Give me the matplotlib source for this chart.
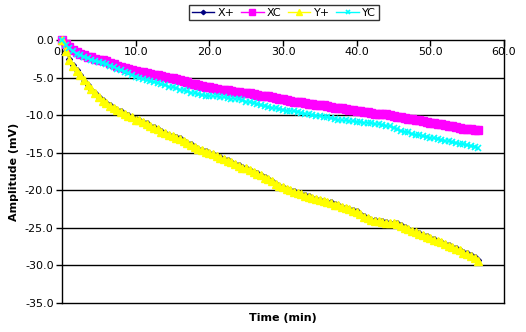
import matplotlib
matplotlib.use("Agg")
import matplotlib.pyplot as plt

# sampling grid (min)
time = [i * 0.5 for i in range(114)]

x_plus = [0.0, -1.4, -2.5, -3.3, -4.0, -4.6, -5.4, -6.0, -6.6, -7.1,
          -7.6, -8.0, -8.4, -8.7, -9.0, -9.3, -9.5, -9.8, -10.0, -10.3,
          -10.5, -10.7, -10.9, -11.1, -11.4, -11.6, -11.9, -12.1, -12.4, -12.6,
          -12.8, -12.9, -13.1, -13.4, -13.7, -13.9, -14.2, -14.5, -14.7, -14.8,
          -15.0, -15.2, -15.4, -15.6, -15.8, -16.0, -16.3, -16.5, -16.7, -16.9,
          -17.1, -17.3, -17.5, -17.7, -17.9, -18.2, -18.5, -18.8, -19.1, -19.4,
          -19.6, -19.8, -19.9, -20.1, -20.3, -20.5, -20.6, -20.8, -21.0, -21.1,
          -21.3, -21.4, -21.5, -21.6, -21.8, -22.0, -22.2, -22.3, -22.5, -22.6,
          -22.8, -23.1, -23.4, -23.7, -23.9, -24.0, -24.1, -24.1, -24.2, -24.3,
          -24.3, -24.4, -24.6, -24.9, -25.2, -25.4, -25.5, -25.7, -25.9, -26.1,
          -26.3, -26.5, -26.7, -26.9, -27.1, -27.3, -27.5, -27.7, -28.0, -28.2,
          -28.4, -28.6, -28.9, -29.3]

xc = [0.0, -0.5, -0.9, -1.3, -1.6, -1.8, -2.0, -2.2, -2.3, -2.5,
      -2.6, -2.7, -2.8, -3.0, -3.2, -3.4, -3.6, -3.7, -3.9, -4.0,
      -4.1, -4.2, -4.3, -4.4, -4.5, -4.6, -4.7, -4.8, -4.9, -5.0,
      -5.1, -5.2, -5.3, -5.5, -5.6, -5.8, -5.9, -6.0, -6.1, -6.2,
      -6.3, -6.4, -6.5, -6.6, -6.6, -6.7, -6.8, -6.9, -6.9, -7.0,
      -7.1, -7.1, -7.2, -7.3, -7.4, -7.5, -7.5, -7.6, -7.7, -7.8,
      -7.9, -8.0, -8.1, -8.2, -8.3, -8.3, -8.4, -8.5, -8.5, -8.6,
      -8.7, -8.7, -8.8, -8.9, -9.0, -9.0, -9.1, -9.2, -9.3, -9.3,
      -9.4, -9.5, -9.6, -9.6, -9.7, -9.8, -9.8, -9.9, -9.9, -10.0,
      -10.1, -10.2, -10.3, -10.4, -10.5, -10.5, -10.6, -10.7, -10.8, -10.9,
      -11.0, -11.1, -11.2, -11.2, -11.3, -11.4, -11.5, -11.6, -11.7, -11.8,
      -11.9, -11.9, -12.0, -12.0]

y_plus = [0.0, -1.5, -2.6, -3.4, -4.1, -4.7, -5.3, -6.0, -6.5, -7.1,
          -7.6, -8.1, -8.4, -8.8, -9.0, -9.3, -9.6, -9.8, -10.1, -10.3,
          -10.6, -10.7, -10.9, -11.2, -11.4, -11.7, -11.9, -12.2, -12.4, -12.6,
          -12.8, -13.0, -13.2, -13.4, -13.7, -14.0, -14.2, -14.5, -14.7, -14.9,
          -15.1, -15.2, -15.4, -15.7, -15.9, -16.1, -16.3, -16.5, -16.8, -17.0,
          -17.1, -17.3, -17.6, -17.8, -18.0, -18.3, -18.5, -18.8, -19.2, -19.4,
          -19.6, -19.8, -20.0, -20.2, -20.3, -20.5, -20.7, -20.9, -21.0, -21.2,
          -21.3, -21.4, -21.6, -21.7, -21.9, -22.0, -22.2, -22.4, -22.5, -22.7,
          -22.9, -23.2, -23.5, -23.7, -23.9, -24.1, -24.1, -24.2, -24.3, -24.3,
          -24.4, -24.5, -24.7, -25.0, -25.2, -25.4, -25.6, -25.8, -26.0, -26.2,
          -26.4, -26.6, -26.8, -26.9, -27.1, -27.4, -27.6, -27.8, -28.0, -28.3,
          -28.5, -28.7, -29.0, -29.4]

yc = [0.0, -0.6, -1.1, -1.5, -1.8, -2.0, -2.2, -2.4, -2.6, -2.8,
      -2.9, -3.1, -3.2, -3.4, -3.6, -3.8, -4.0, -4.2, -4.4, -4.7,
      -4.9, -5.0, -5.2, -5.3, -5.5, -5.6, -5.7, -5.9, -6.0, -6.2,
      -6.3, -6.4, -6.6, -6.7, -6.8, -7.0, -7.1, -7.2, -7.3, -7.4,
      -7.4, -7.5, -7.5, -7.6, -7.6, -7.7, -7.8, -7.8, -7.9, -8.0,
      -8.2, -8.3, -8.4, -8.5, -8.7, -8.8, -8.9, -9.0, -9.1, -9.2,
      -9.3, -9.4, -9.4, -9.5, -9.6, -9.7, -9.8, -9.9, -10.0, -10.1,
      -10.1, -10.2, -10.3, -10.4, -10.5, -10.6, -10.7, -10.7, -10.8, -10.8,
      -10.9, -10.9, -11.0, -11.0, -11.1, -11.2, -11.2, -11.3, -11.4, -11.5,
      -11.7, -11.9, -12.1, -12.2, -12.3, -12.5, -12.6, -12.7, -12.8, -12.9,
      -13.0, -13.1, -13.2, -13.3, -13.4, -13.5, -13.6, -13.7, -13.8, -13.9,
      -14.0, -14.1, -14.2, -14.4]

series_names = ["X+", "XC", "Y+", "YC"]
x_ticks = [0, 10, 20, 30, 40, 50, 60]
y_ticks = [0, -5, -10, -15, -20, -25, -30, -35]

plt.rcParams['font.family'] = ['DejaVu Sans']

fig = plt.figure(figsize=(5.26, 3.32), dpi=100)
ax = fig.add_axes([62 / 526, 1 - 303 / 332, (504 - 62) / 526, (303 - 40) / 332])

for yv in y_ticks[1:-1]:
    ax.axhline(yv, color='black', lw=1.0, zorder=1)

ax.plot(time, x_plus, color='#000080', lw=1.0, marker='D', ms=3.0,
        mec='#000080', mfc='#000080', label=series_names[0], clip_on=False, zorder=3)
ax.plot(time, xc, color='#FF00FF', lw=1.0, marker='s', ms=5.2,
        mec='#FF00FF', mfc='#FF00FF', label=series_names[1], clip_on=False, zorder=3)
ax.plot(time, y_plus, color='#FFFF00', lw=1.0, marker='^', ms=6.2,
        mec='#FFFF00', mfc='#FFFF00', label=series_names[2], clip_on=False, zorder=3)
ax.plot(time, yc, color='#00FFFF', lw=1.0, marker='x', ms=4.8, mew=1.2,
        mec='#00FFFF', label=series_names[3], clip_on=False, zorder=3)

ax.set_xlim(0, 60)
ax.set_ylim(-35, 0)
ax.set_xticks(x_ticks)
ax.set_xticklabels([f"{v:.1f}" for v in x_ticks])
ax.set_yticks(y_ticks)
ax.set_yticklabels([f"{v:.1f}" for v in y_ticks])

ax.tick_params(axis='x', top=True, bottom=False, labeltop=True, labelbottom=False,
               direction='in', length=4, width=1, pad=-12.5, labelsize=8, colors='black')
ax.tick_params(axis='y', left=True, direction='out', length=4, width=1, pad=2,
               labelsize=8, colors='black')

for s in ax.spines.values():
    s.set_color('black')
    s.set_linewidth(1.0)

ax.set_xlabel("Time (min)", fontsize=8, fontweight='bold', labelpad=7)
ax.set_ylabel("Amplitude (mV)", fontsize=8, fontweight='bold', labelpad=4)

leg = ax.legend(loc='center', bbox_to_anchor=(284 / 526, 1 - 12.5 / 332),
                bbox_transform=fig.transFigure, markerscale=0.75,
                ncol=4, fontsize=8, frameon=True, fancybox=False, edgecolor='black',
                handlelength=2.0, handletextpad=0.3, columnspacing=0.6, borderpad=0.25,
                borderaxespad=0)
leg.get_frame().set_linewidth(1.0)

fig.savefig("out.png", dpi=100)
